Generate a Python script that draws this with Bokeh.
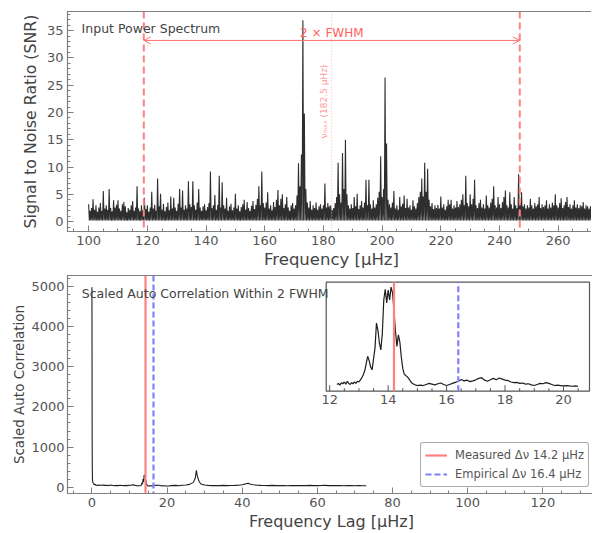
import numpy as np
from bokeh.plotting import figure
from bokeh.models import (Range1d, SingleIntervalTicker, Span, Label, Arrow, OpenHead,
                          GlobalInlineStyleSheet)
from bokeh.core.properties import value
from bokeh.layouts import column
from bokeh.embed import file_html
from bokeh.resources import INLINE

# ---------------- data ----------------
# Input power spectrum: SNR peak envelope, 0.5 uHz bins from 100 uHz
spec_start = 100.0
spec_step = 0.5
spec_snr = [
    3.2, 2.0, 2.5, 4.1, 2.2, 3.0, 1.8, 2.6, 3.4, 2.0, 5.6, 2.4, 3.0, 2.2, 6.0, 2.5, 1.9, 3.9, 2.6, 3.1,
    3.9, 2.4, 2.0, 3.2, 3.6, 2.8, 1.7, 2.5, 2.2, 3.0, 3.8, 2.0, 2.6, 6.5, 2.4, 1.9, 3.0, 2.1, 4.4, 2.3,
    3.0, 1.8, 2.6, 5.5, 2.4, 3.1, 2.0, 7.9, 2.8, 5.1, 2.2, 3.3, 1.9, 2.7, 3.5, 2.1, 4.6, 2.4, 4.4, 2.6,
    2.0, 3.3, 6.0, 2.6, 5.7, 2.2, 3.0, 2.4, 7.4, 3.2, 2.7, 7.4, 3.0, 2.2, 3.5, 6.0, 2.6, 2.0, 2.8, 3.2,
    2.1, 2.7, 3.4, 9.2, 2.5, 3.0, 4.9, 2.2, 3.1, 8.4, 2.6, 7.2, 3.0, 2.4, 4.4, 2.0, 2.8, 3.3, 2.1, 2.6,
    5.1, 2.4, 3.0, 1.9, 2.7, 3.2, 4.0, 2.2, 3.6, 2.5, 2.0, 2.9, 3.8, 2.3, 3.1, 4.2, 6.5, 3.0, 9.2, 3.4,
    2.6, 3.5, 5.4, 2.4, 3.0, 2.1, 3.6, 2.7, 4.0, 5.8, 3.0, 4.2, 5.0, 2.5, 3.2, 4.5, 2.6, 2.0, 3.0, 3.4,
    2.4, 3.0, 4.8, 10.7, 6.5, 12.3, 36.9, 19.8, 6.0, 3.5, 2.6, 3.8, 2.2, 3.0, 2.5, 3.5, 2.2, 2.8, 3.2, 2.4,
    3.0, 7.0, 2.6, 3.4, 2.8, 3.0, 2.2, 2.5, 3.4, 4.5, 10.8, 5.0, 3.5, 12.6, 6.0, 15.0, 5.0, 3.0, 2.4, 3.2,
    2.5, 4.5, 2.8, 5.1, 2.3, 3.0, 3.8, 2.6, 3.5, 7.7, 3.0, 7.7, 3.2, 2.4, 3.9, 2.6, 3.2, 4.4, 5.5, 12.0,
    4.5, 6.0, 26.4, 14.3, 4.0, 3.2, 2.6, 3.5, 5.6, 2.4, 3.0, 2.2, 4.5, 2.8, 3.3, 4.8, 2.5, 4.2, 2.6, 3.0,
    2.2, 3.9, 2.8, 2.4, 3.4, 4.5, 5.5, 7.9, 4.6, 10.8, 5.5, 9.7, 4.0, 2.8, 3.4, 2.3, 3.0, 2.5, 3.1, 2.4,
    4.6, 2.6, 3.2, 2.2, 2.8, 4.0, 3.2, 4.0, 2.4, 3.0, 2.6, 3.8, 2.7, 3.2, 4.0, 5.0, 3.0, 8.4, 3.4, 2.8,
    5.0, 3.2, 4.2, 7.7, 3.0, 2.5, 3.4, 4.0, 2.6, 3.2, 2.4, 4.8, 3.0, 2.6, 3.5, 4.2, 6.5, 3.0, 2.6, 4.5,
    3.2, 2.5, 3.6, 4.5, 5.7, 3.0, 2.6, 5.4, 3.2, 2.4, 4.5, 3.0, 2.5, 8.7, 3.4, 5.4, 2.8, 3.2, 2.4, 3.0,
    2.6, 4.2, 3.0, 2.4, 3.4, 2.8, 3.2, 4.5, 2.5, 3.2, 2.7, 3.0, 3.9, 2.4, 3.2, 2.6, 3.5, 3.0, 5.0, 3.0,
    2.6, 3.4, 4.3, 2.5, 3.0, 3.6, 4.5, 2.7, 3.2, 2.4, 3.0, 3.9, 2.6, 3.2, 2.5, 3.0, 2.8, 3.6, 2.4, 3.0,
    2.8, 2.4, 2.8, 3.0, 2.4, 2.6,
]
spec_floor = 0.2          # lower edge of the noise band between peaks
spec_freq = [spec_start + i * spec_step for i in range(len(spec_snr))]

fwhm_lo = 118.8          # left limit of 2 x FWHM window
fwhm_hi = 246.9          # right limit
numax_pos = 182.8
numax_text = "νₘₐₓ (182.5 μHz)"
arrow_snr = 33.2

# Scaled auto-correlation
acf_lag = [
    0, 0.03, 0.06, 0.1, 0.15, 0.25, 0.4, 0.6, 0.8, 1.0, 1.5, 2, 2.5, 3, 3.5, 4, 4.5, 5, 5.5, 6,
    6.5, 7, 7.5, 8, 8.5, 9, 9.5, 10, 10.5, 11, 11.5, 12,
    12.25, 12.30, 12.35, 12.40, 12.45, 12.50, 12.55, 12.60, 12.65, 12.70, 12.75, 12.80, 12.85, 12.90,
    12.95, 13.00, 13.05, 13.10, 13.15, 13.20, 13.25, 13.30, 13.35, 13.40, 13.45, 13.50, 13.55, 13.60,
    13.65, 13.70, 13.75, 13.80, 13.85, 13.90, 13.95, 14.00, 14.05, 14.10, 14.15, 14.20, 14.25, 14.30,
    14.35, 14.40, 14.45, 14.50, 14.55, 14.60, 14.65, 14.70, 14.75, 14.80, 14.85, 14.90, 14.95, 15.00,
    15.1, 15.2, 15.3, 15.4, 15.5, 15.6, 15.7, 15.8, 15.9, 16.0, 16.1, 16.2, 16.3, 16.4, 16.5, 16.6,
    16.7, 16.8, 16.9, 17.0, 17.1, 17.2, 17.3, 17.4, 17.5, 17.6, 17.7, 17.8, 17.9, 18.0, 18.1, 18.2,
    18.3, 18.4, 18.5, 18.6, 18.7, 18.8, 18.9, 19.0, 19.1, 19.2, 19.3, 19.4, 19.5, 19.6, 19.7, 19.8,
    19.9, 20.0, 20.1, 20.2, 20.3, 20.4, 20.5,
    21, 22, 23, 24, 25, 26, 27, 27.5, 27.8, 28.0, 28.3, 28.6, 29, 30, 31, 32, 33, 34, 35, 36, 37, 38,
    39, 40, 41, 41.6, 42, 43, 44, 45, 46, 47, 48, 49, 50, 51, 52, 53, 54, 55, 56, 57, 58, 59, 60, 61,
    62, 63, 64, 65, 66, 67, 68, 69, 70, 71, 72, 73,
]
acf_val = [
    4980, 3250, 1150, 460, 180, 120, 90, 60, 75, 50, 45, 55, 48, 52, 45, 50, 40, 55, 42, 38,
    45, 40, 50, 42, 38, 45, 40, 48, 52, 60, 45, 38,
    33, 36, 31, 38, 35, 40, 34, 42, 36, 33, 38, 35, 40, 36,
    42, 40, 46, 52, 60, 72, 92, 112, 100, 82, 74, 105, 135, 205,
    185, 150, 130, 175, 270, 300, 262, 298, 270, 306, 290, 240, 182, 140,
    172, 152, 110, 78, 62, 58, 55, 50, 44, 38, 35, 33, 31, 30,
    31, 30, 33, 36, 34, 32, 35, 37, 33, 30, 33, 36, 39, 42, 47, 43,
    45, 41, 43, 46, 50, 52, 45, 42, 46, 50, 46, 51, 48, 45, 44, 40,
    38, 39, 36, 37, 34, 35, 32, 30, 33, 36, 35, 38, 36, 33, 30, 31,
    30, 29, 30, 29, 28, 29, 28,
    40, 45, 38, 50, 55, 70, 120, 230, 420, 300, 200, 130, 80, 55, 45, 40, 42, 38, 45, 40, 42, 45,
    50, 60, 85, 100, 80, 60, 50, 45, 42, 40, 45, 38, 42, 40, 36, 40, 38, 42, 40, 38, 45, 40, 38, 42,
    45, 40, 38, 42, 40, 36, 38, 40, 36, 38, 35, 36,
]
inset_lo, inset_hi = 12.25, 20.5          # lag window shown in the inset
inset_xlim = (11.88, 20.89)
inset_ticks = [12, 14, 16, 18, 20]
inset_minor_step = 0.5
dnu_measured = 14.2
dnu_empirical = 16.4
label_measured = "Measured Δν 14.2 μHz"
label_empirical = "Empirical Δν 16.4 μHz"

# ---------------- styling helpers ----------------
FONT = "DejaVu Sans"
FRAME = "#7f7f7f"
TXT = "#444444"
RED = "#ff8080"
BLUE = "#8080ff"
LEFT = 52


def style(p, xlabel, ylabel, xlabel_size, ylabel_size):
    p.outline_line_color = FRAME
    p.outline_line_width = 1.2
    p.xgrid.visible = False
    p.ygrid.visible = False
    p.background_fill_color = "white"
    for ax in (p.xaxis[0], p.yaxis[0]):
        ax.axis_line_color = FRAME
        ax.major_tick_line_color = FRAME
        ax.minor_tick_line_color = FRAME
        ax.major_tick_in = 6
        ax.major_tick_out = 0
        ax.minor_tick_in = 3
        ax.minor_tick_out = 0
        ax.major_label_text_font = FONT
        ax.major_label_text_font_size = "13px"
        ax.major_label_text_color = "#555555"
        ax.major_label_standoff = 4
        ax.axis_label_text_font = FONT
        ax.axis_label_text_font_style = "normal"
        ax.axis_label_text_color = TXT
        ax.axis_label_standoff = 4
    p.xaxis[0].axis_label = xlabel
    p.yaxis[0].axis_label = ylabel
    p.xaxis[0].axis_label_text_font_size = xlabel_size
    p.xaxis[0].axis_label_standoff = 2
    p.yaxis[0].axis_label_text_font_size = ylabel_size


# ---------------- top panel ----------------
p1 = figure(frame_width=528, frame_height=220, x_range=Range1d(92.8, 272.7),
            y_range=Range1d(-1.8, 38.5), output_backend="svg", toolbar_location=None,
            min_border_left=LEFT, min_border_right=3, min_border_top=3, min_border_bottom=42)
style(p1, "Frequency [μHz]", "Signal to Noise Ratio (SNR)", "16.5px", "15.8px")
p1.xaxis[0].ticker = SingleIntervalTicker(interval=20, num_minor_ticks=4)
p1.yaxis[0].ticker = SingleIntervalTicker(interval=5, num_minor_ticks=5)

# noise spectrum: zig-zag between each bin's peak and the band floor
zz_x, zz_y = [], []
for f, s in zip(spec_freq, spec_snr):
    zz_x += [f, f + spec_step / 2]
    zz_y += [s, spec_floor]
p1.line(zz_x, zz_y, line_color="#2e2e2e", line_width=1.1)

for xv in (fwhm_lo, fwhm_hi):
    p1.add_layout(Span(location=xv, dimension="height", line_color=RED, line_width=2,
                       line_dash="7 4"))
p1.add_layout(Span(location=numax_pos, dimension="height", line_color="#ffb0b0",
                   line_width=1, line_dash="1 2"))
p1.add_layout(Arrow(x_start=fwhm_lo, y_start=arrow_snr, x_end=fwhm_hi, y_end=arrow_snr,
                    line_color="#ff7070", line_width=1,
                    start=OpenHead(size=7, line_color="#ff7070", line_width=1),
                    end=OpenHead(size=7, line_color="#ff7070", line_width=1)))
p1.add_layout(Label(x=(fwhm_lo + fwhm_hi) / 2, y=arrow_snr, text="2 × FWHM",
                    text_align="center", text_baseline="bottom", text_color="#ff6060",
                    text_font=FONT, text_font_size="12px"))
p1.add_layout(Label(x=numax_pos, y=22.0, x_offset=-3, angle=np.pi / 2, text=numax_text,
                    text_align="center", text_baseline="bottom", text_color="#ff9a9a",
                    text_font=FONT, text_font_size="9px"))
p1.add_layout(Label(x=97.6, y=35.4, text="Input Power Spectrum", text_align="left",
                    text_baseline="middle", text_color=TXT, text_font=FONT,
                    text_font_size="12.5px"))

# ---------------- bottom panel ----------------
FW, FH = 528, 218
p2 = figure(frame_width=FW, frame_height=FH, x_range=Range1d(-6.5, 134),
            y_range=Range1d(-157, 5274), output_backend="svg", toolbar_location=None,
            min_border_left=LEFT, min_border_right=3, min_border_top=2, min_border_bottom=40)
style(p2, "Frequency Lag [μHz]", "Scaled Auto Correlation", "16px", "13.5px")
p2.yaxis[0].axis_label_standoff = 1
p2.yaxis[0].major_label_standoff = 3
p2.xaxis[0].ticker = SingleIntervalTicker(interval=20, num_minor_ticks=4)
p2.yaxis[0].ticker = SingleIntervalTicker(interval=1000, num_minor_ticks=5)

p2.line(acf_lag, acf_val, line_color="#1e1e1e", line_width=1.1)
p2.vspan(x=[dnu_measured], line_color=RED, line_width=2.2, legend_label=label_measured)
p2.vspan(x=[dnu_empirical], line_color=BLUE, line_width=2.2, line_dash="6 3",
         legend_label=label_empirical)
p2.add_layout(Label(x=-2.7, y=4825, text="Scaled Auto Correlation Within 2 FWHM",
                    text_align="left", text_baseline="middle", text_color=TXT,
                    text_font=FONT, text_font_size="12.5px"))

# ---- inset drawn inside the bottom frame through its own ranges ----
sel = [i for i, l in enumerate(acf_lag) if inset_lo <= l <= inset_hi]
in_lag = [acf_lag[i] for i in sel]
in_val = [acf_val[i] for i in sel]
vmin, vmax = min(in_val), max(in_val)
pad = 0.05 * (vmax - vmin)
iy0, iy1 = vmin - pad, vmax + pad
ix0, ix1 = inset_xlim
# inset frame placement inside the main frame, in pixels from the frame's left / bottom
BOX_L, BOX_R, BOX_B, BOX_T = 258.7, 522.0, 102.3, 211.3
sx = (ix1 - ix0) / (BOX_R - BOX_L)
sy = (iy1 - iy0) / (BOX_T - BOX_B)
p2.extra_x_ranges = {"inset": Range1d(ix0 - BOX_L * sx, ix1 + (FW - BOX_R) * sx)}
p2.extra_y_ranges = {"inset": Range1d(iy0 - BOX_B * sy, iy1 + (FH - BOX_T) * sy)}
kw = dict(x_range_name="inset", y_range_name="inset")
INS = "#555555"
p2.quad(left=[ix0], right=[ix1], bottom=[iy0], top=[iy1], fill_color="white",
        line_color=INS, line_width=1.2, **kw)
p2.line(in_lag, in_val, line_color="#1e1e1e", line_width=1.2, **kw)
p2.segment(x0=[dnu_measured], y0=[iy0], x1=[dnu_measured], y1=[iy1],
           line_color=RED, line_width=2.2, **kw)
p2.segment(x0=[dnu_empirical], y0=[iy0], x1=[dnu_empirical], y1=[iy1],
           line_color=BLUE, line_width=2.2, line_dash="6 3", **kw)
minor = [inset_ticks[0] + k * inset_minor_step
         for k in range(int((ix1 - inset_ticks[0]) / inset_minor_step) + 1)]
minor = [m for m in minor if m not in inset_ticks and ix0 < m < ix1]
p2.segment(x0=inset_ticks, y0=[iy0] * len(inset_ticks), x1=inset_ticks,
           y1=[iy0 + 6 * sy] * len(inset_ticks), line_color=INS, line_width=1, **kw)
p2.segment(x0=minor, y0=[iy0] * len(minor), x1=minor, y1=[iy0 + 3 * sy] * len(minor),
           line_color=INS, line_width=1, **kw)
p2.text(x=inset_ticks, y=[iy0] * len(inset_ticks), text=[str(t) for t in inset_ticks],
        text_align="center", text_baseline="top", y_offset=4, text_color="#555555",
        text_font=value(FONT), text_font_size="13px", **kw)

lg = p2.legend[0]
lg.location = "bottom_right"
lg.margin = 6
lg.padding = 4
lg.spacing = 3
lg.glyph_width = 22
lg.glyph_height = 16
lg.label_height = 16
lg.label_standoff = 8
lg.label_text_font = FONT
lg.label_text_font_size = "11.5px"
lg.label_text_color = "#555555"
lg.border_line_color = "#555555"
lg.border_line_width = 1
lg.border_radius = 3
lg.background_fill_alpha = 1.0

layout = column(p1, p2)
layout.stylesheets = [GlobalInlineStyleSheet(
    css="body { margin: 8px 8px 0 8px; } html, body { overflow: hidden; }")]

with open("out.html", "w") as f:
    f.write(file_html(layout, INLINE))
